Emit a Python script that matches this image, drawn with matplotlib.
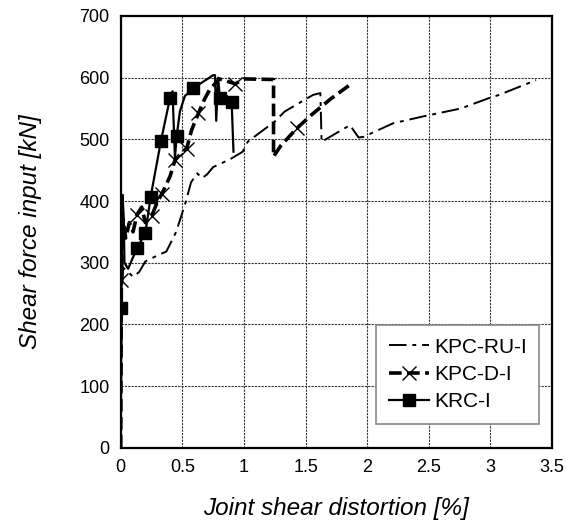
import matplotlib
matplotlib.use("Agg")
import matplotlib.pyplot as plt

plt.rcParams["font.family"] = ["Liberation Sans", "DejaVu Sans"]

# KPC-RU-I (thin dash-dot, no markers)
ru_x = [0.0, 0.005, 0.01, 0.02, 0.06, 0.1, 0.15, 0.2, 0.3, 0.37, 0.45, 0.53, 0.57,
        0.62, 0.66, 0.7, 0.75, 0.89, 0.99, 1.03, 1.25, 1.33, 1.56, 1.62, 1.63,
        1.86, 1.93, 1.97, 2.21, 2.45, 2.76, 2.99, 3.07, 3.37]
ru_y = [0, 150, 250, 292, 285, 277, 285, 302, 312, 318, 350, 400, 430,
        445, 437, 443, 455, 468, 480, 496, 529, 545, 572, 575, 496,
        523, 503, 504, 526, 537, 550, 567, 572, 596]

# KPC-D-I (thick dashed, x markers)
d_x = [0.0, 0.005, 0.01, 0.02, 0.04, 0.07, 0.1, 0.13, 0.17, 0.2, 0.25, 0.3, 0.335,
       0.4, 0.44, 0.5, 0.535, 0.575, 0.63, 0.68, 0.72, 0.8, 0.93, 1.0, 1.24,
       1.24, 1.3, 1.43, 1.55, 1.7, 1.85]
d_y = [0, 272, 310, 370, 340, 365, 350, 377, 390, 365, 375, 400, 412,
       440, 466, 480, 485, 515, 542, 565, 580, 598, 590, 598, 597,
       472, 490, 518, 540, 565, 587]
d_marks = [1, 7, 10, 12, 14, 16, 18, 22, 27]

# KRC-I (solid, square markers)
rc_x = [0.0, 0.005, 0.01, 0.015, 0.025, 0.03, 0.06, 0.13, 0.2, 0.243, 0.327, 0.40,
        0.42, 0.44, 0.454, 0.48, 0.52, 0.59, 0.75, 0.765, 0.775, 0.79, 0.805,
        0.84, 0.9, 0.915]
rc_y = [0, 226, 330, 410, 370, 300, 290, 323, 348, 407, 498, 567,
        578, 470, 505, 545, 570, 583, 604, 604, 530, 600, 567,
        575, 561, 480]
rc_marks = [1, 7, 8, 9, 10, 11, 14, 17, 22, 24]

fig = plt.figure(figsize=(5.73, 5.24), dpi=100)
ax = fig.add_axes([0.2107, 0.1456, 0.7527, 0.8239])

ax.plot(ru_x, ru_y, color="black", lw=1.4, ls=(0, (9, 3, 2, 3)),
        label="KPC-RU-I")
ax.plot(d_x, d_y, color="black", lw=2.6, ls=(0, (3.5, 1.5)),
        marker="x", markersize=10, markeredgewidth=1.0,
        markevery=d_marks, label="KPC-D-I")
ax.plot(rc_x, rc_y, color="black", lw=1.6, marker="s", markersize=8,
        markevery=rc_marks, label="KRC-I")

ax.set_xlim(0, 3.5)
ax.set_ylim(0, 700)
ax.set_xticks([0, 0.5, 1, 1.5, 2, 2.5, 3, 3.5])
ax.set_xticklabels(["0", "0.5", "1", "1.5", "2", "2.5", "3", "3.5"])
ax.set_yticks(range(0, 701, 100))
ax.tick_params(labelsize=13, length=0, pad=8)
ax.grid(True, color="#333333", lw=0.8, ls=(0, (2, 1)))
for sp in ax.spines.values():
    sp.set_linewidth(1.6)

ax.set_xlabel("Joint shear distortion [%]", fontsize=17.5, style="italic",
              labelpad=15)
ax.set_ylabel("Shear force input [kN]", fontsize=17.5, style="italic",
              labelpad=27)

leg = ax.legend(loc="upper left", bbox_to_anchor=(0.593, 0.284), fontsize=15,
                fancybox=False, framealpha=1, edgecolor="#888888",
                handlelength=1.9, handletextpad=0.25, borderpad=0.6,
                labelspacing=0.4, borderaxespad=0)
leg.get_frame().set_linewidth(1.2)

fig.savefig("out.png", dpi=100, facecolor="white")
